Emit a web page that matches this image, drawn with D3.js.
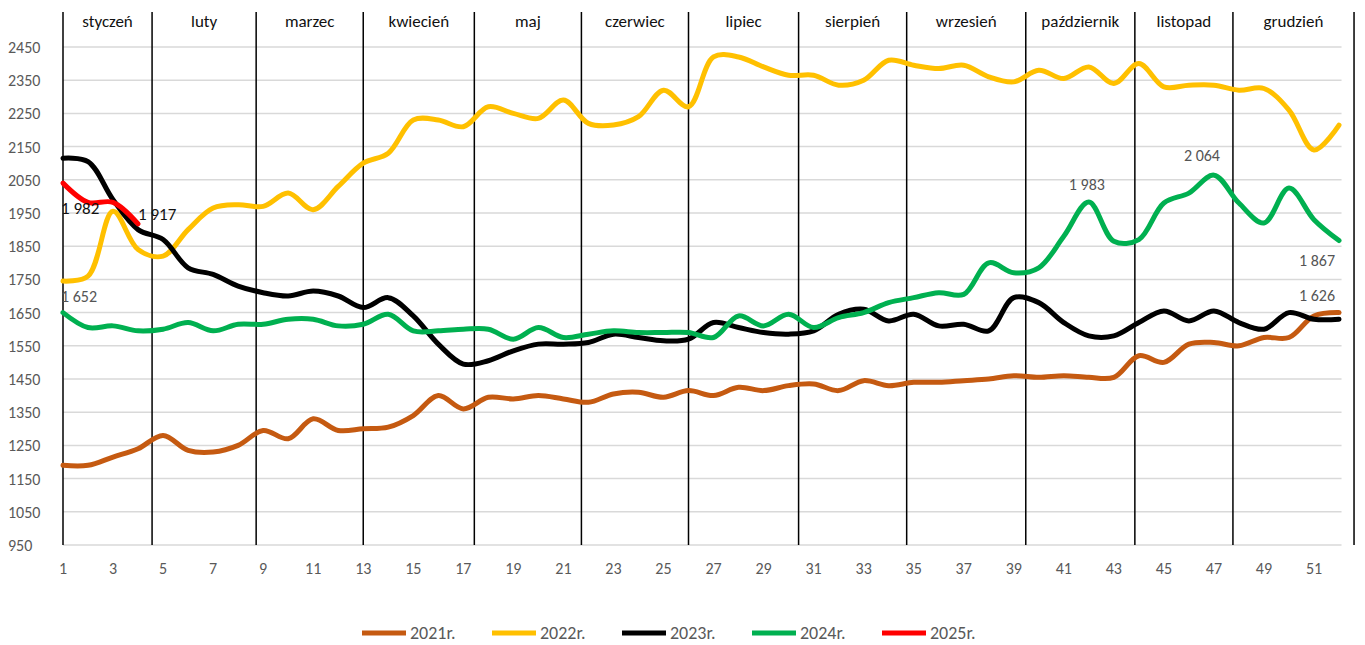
<!DOCTYPE html>
<html><head><meta charset="utf-8">
<script src="https://cdn.jsdelivr.net/npm/d3@7"></script>
<style>body{margin:0;background:#fff;font-family:Calibri,"Liberation Sans Narrow","Open Sans",sans-serif}</style>
</head><body><svg id="chart" width="1365" height="645"></svg>
<script>
// week numbers and y ticks
const weeks = d3.range(1, 53);
const yTicks = d3.range(950, 2451, 100);
const xTickLabels = d3.range(1, 52, 2);

const months = ["styczeń","luty","marzec","kwiecień","maj","czerwiec","lipiec","sierpień","wrzesień","październik","listopad","grudzień"];
// month borders in week units
const monthBounds = [1, 4.56, 8.72, 13, 17.44, 21.72, 26, 30.4, 34.72, 39.48, 43.84, 47.76, 52.6];

const s2021 = [1190,1190,1215,1240,1280,1235,1230,1250,1295,1270,1330,1295,1300,1305,1340,1400,1360,1395,1390,1400,1390,1380,1405,1410,1395,1415,1400,1425,1415,1430,1435,1415,1445,1430,1440,1440,1445,1450,1460,1455,1460,1455,1455,1520,1500,1555,1560,1550,1575,1575,1640,1650];
const s2022 = [1745,1760,1955,1840,1820,1900,1965,1975,1970,2010,1960,2030,2100,2130,2230,2230,2210,2270,2250,2235,2290,2220,2215,2240,2320,2270,2420,2420,2390,2365,2365,2335,2350,2410,2395,2385,2395,2360,2345,2380,2355,2390,2340,2400,2330,2335,2335,2320,2325,2260,2140,2215];
const s2023 = [2115,2105,1990,1900,1870,1785,1765,1730,1710,1700,1715,1700,1665,1695,1640,1555,1495,1505,1535,1555,1555,1560,1585,1575,1565,1570,1620,1605,1590,1585,1595,1645,1660,1625,1645,1610,1615,1595,1695,1680,1620,1580,1580,1620,1655,1625,1655,1620,1600,1650,1630,1630];
const s2024 = [1650,1605,1610,1595,1600,1620,1595,1615,1615,1630,1630,1610,1615,1645,1595,1595,1600,1600,1570,1605,1575,1585,1595,1590,1590,1590,1575,1640,1610,1645,1605,1635,1650,1680,1695,1710,1705,1800,1770,1785,1880,1983,1865,1870,1980,2010,2064,1980,1920,2025,1930,1867];
const s2025 = [2040,1982,1982,1917];

const series = [
  {name: "2021r.", color: "#c55a11", values: s2021},
  {name: "2022r.", color: "#ffc000", values: s2022},
  {name: "2023r.", color: "#000000", values: s2023},
  {name: "2024r.", color: "#00b050", values: s2024},
  {name: "2025r.", color: "#ff0000", values: s2025}
];

const labels = [
  {week: 1, value: 1982, text: "1 982", dx: -2, dy: 12, color: "#111", size: 17},
  {week: 4, value: 1917, text: "1 917", dx: 0, dy: -4, color: "#111", size: 17},
  {week: 1, value: 1745, text: "1 652", dx: -2, dy: 21, color: "#555", size: 16},
  {week: 42, value: 1983, text: "1 983", dx: -20, dy: -12, color: "#555", size: 16},
  {week: 47, value: 2064, text: "2 064", dx: -30, dy: -14, color: "#555", size: 16},
  {week: 52, value: 1867, text: "1 867", dx: -40, dy: 25, color: "#555", size: 16},
  {week: 52, value: 1650, text: "1 626", dx: -40, dy: -12, color: "#555", size: 16}
];

const svg = d3.select("#chart");
const x = d3.scaleLinear().domain([1, 51]).range([63, 1314]);
const y = d3.scaleLinear().domain([950, 2450]).range([545, 47]);

// gridlines
svg.append("g").selectAll("line").data(yTicks).join("line")
  .attr("x1", x(1)).attr("x2", x(52.1))
  .attr("y1", d => y(d)).attr("y2", d => y(d))
  .attr("stroke", "#d9d9d9").attr("stroke-width", 1.5);

svg.append("g").selectAll("text").data(yTicks).join("text")
  .attr("x", 8).attr("y", d => y(d) + 6)
  .attr("font-size", 16).attr("fill", "#595959").text(d => d);

svg.append("g").selectAll("text").data(xTickLabels).join("text")
  .attr("x", d => x(d)).attr("y", 574).attr("text-anchor", "middle")
  .attr("font-size", 16).attr("fill", "#595959").text(d => d);

// month separators
svg.append("g").selectAll("line").data(monthBounds).join("line")
  .attr("x1", d => x(d)).attr("x2", d => x(d))
  .attr("y1", 12).attr("y2", 545)
  .attr("stroke", "#000").attr("stroke-width", 1.5);

svg.append("g").selectAll("text").data(months).join("text")
  .attr("x", (d, i) => (x(monthBounds[i]) + x(monthBounds[i + 1])) / 2)
  .attr("y", 27).attr("text-anchor", "middle")
  .attr("font-size", 17).attr("fill", "#111").text(d => d);

// lines
const line = d3.line()
  .x((d, i) => x(i + 1)).y(d => y(d))
  .curve(d3.curveCatmullRom.alpha(0.5));

svg.append("g").selectAll("path").data(series).join("path")
  .attr("d", d => line(d.values))
  .attr("fill", "none").attr("stroke", d => d.color)
  .attr("stroke-width", 5).attr("stroke-linejoin", "round").attr("stroke-linecap", "round");

// data labels
svg.append("g").selectAll("text").data(labels).join("text")
  .attr("x", d => x(d.week) + d.dx).attr("y", d => y(d.value) + d.dy)
  .attr("font-size", d => d.size).attr("fill", d => d.color).text(d => d.text);

// legend
const legend = svg.append("g").attr("transform", "translate(362,633)");
const item = legend.selectAll("g").data(series).join("g")
  .attr("transform", (d, i) => `translate(${i * 130},0)`);
item.append("line").attr("x1", 0).attr("x2", 44)
  .attr("stroke", d => d.color).attr("stroke-width", 5);
item.append("text").attr("x", 48).attr("y", 6)
  .attr("font-size", 18).attr("fill", "#595959").text(d => d.name);
</script></body></html>
